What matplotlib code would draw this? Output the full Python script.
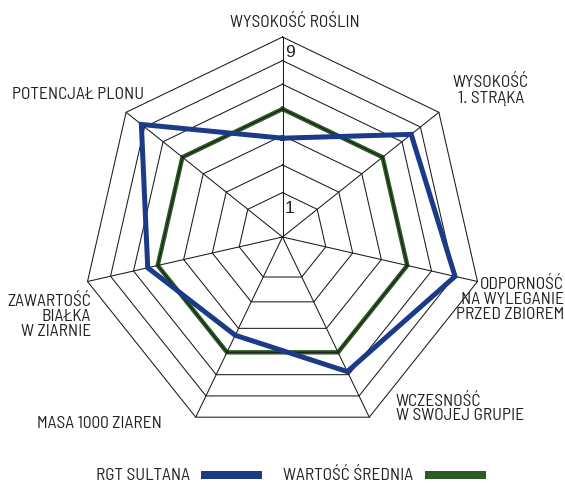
import numpy as np
import matplotlib
matplotlib.use("Agg")
import matplotlib.pyplot as plt
from matplotlib.patches import Rectangle

# ---------------- data ----------------
categories = [
    "WYSOKOŚĆ ROŚLIN",
    "WYSOKOŚĆ\n1. STRĄKA",
    "ODPORNOŚĆ\nNA WYLEGANIE\nPRZED ZBIOREM",
    "WCZESNOŚĆ\nW SWOJEJ GRUPIE",
    "MASA 1000 ZIAREN",
    "ZAWARTOŚĆ\nBIAŁKA\nW ZIARNIE",
    "POTENCJAŁ PLONU",
]
rgt_sultana = [3.55, 7.0, 7.7, 6.15, 4.05, 5.55, 7.9]
wartosc_srednia = [5, 5, 5, 5, 5, 5, 5]
ring_values = np.linspace(1, 9, 7)
scale_labels = ["1", "9"]
series_names = ["RGT SULTANA", "WARTOŚĆ ŚREDNIA"]

# ---------------- style ----------------
W, H, DPI = 565, 483, 100
CX, CY, R = 282.5, 237.0, 200.0   # layout (pixels)
# radial scale of the original drawing (fraction of radius at each ring)
RING_FRAC = [0.222, 0.360, 0.507, 0.640, 0.764, 0.882, 1.0]
BLUE = "#1b3a87"
GREEN = "#2c5c23"
INK = "#222222"
GRID = "#1a1a1a"
LABEL_FAMILY = ["Barlow Semi Condensed", "DejaVu Sans"]
plt.rcParams["font.family"] = LABEL_FAMILY

fig = plt.figure(figsize=(W / DPI, H / DPI), dpi=DPI)
ax = fig.add_axes([0, 0, 1, 1])
ax.set_xlim(-CX / R, (W - CX) / R)
ax.set_ylim(-(H - CY) / R, CY / R)
ax.axis("off")

n = len(categories)
angles = np.pi / 2 - np.arange(n) * 2 * np.pi / n


def rad(v):
    return np.interp(np.asarray(v, float), ring_values, RING_FRAC)


def xy(values):
    r = rad(values)
    x = r * np.cos(angles)
    y = r * np.sin(angles)
    return np.append(x, x[0]), np.append(y, y[0])


def px(x, y):
    return (x - CX) / R, (CY - y) / R


# grid rings
for rv in ring_values:
    gx, gy = xy([rv] * n)
    ax.plot(gx, gy, color=GRID, lw=0.75, zorder=2)
# spokes
ox, oy = xy([ring_values[-1]] * n)
for i in range(n):
    ax.plot([0, ox[i]], [0, oy[i]], color=GRID, lw=0.75, zorder=2)

# series
gx, gy = xy(wartosc_srednia)
ax.plot(gx, gy, color=GREEN, lw=3.2, zorder=1.5, solid_joinstyle="miter")
bx, by = xy(rgt_sultana)
ax.plot(bx, by, color=BLUE, lw=3.6, zorder=3, solid_joinstyle="miter")

# scale labels
for lab, v in zip(scale_labels, [ring_values[0], ring_values[-1]]):
    ax.text(0.012, rad(v) - 0.04, lab, fontsize=12.5, color=INK,
            family=["Liberation Sans", "DejaVu Sans"], ha="left", va="top", zorder=4)

# category labels (layout positions)
fs = 12.5
lab_pos = [
    (295, 22, "center", "center", 1.0),
    (491, 90, "center", "center", 1.15),
    (564, 299, "right", "center", 1.0),
    (396, 408, "left", "center", 1.0),
    (99, 423, "center", "center", 1.0),
    (91, 316, "right", "center", 1.0),
    (78, 94, "center", "center", 1.0),
]
for cat, (x, y, ha, va, ls) in zip(categories, lab_pos):
    tx, ty = px(x, y)
    ax.text(tx, ty, cat, fontsize=fs, family=LABEL_FAMILY, color=INK, ha=ha, va=va,
            multialignment=ha, linespacing=ls)

# legend
tx, ty = px(190, 475)
ax.text(tx, ty, series_names[0], fontsize=fs, family=LABEL_FAMILY, color=INK,
        ha="right", va="center")
tx, ty = px(413, 475)
ax.text(tx, ty, series_names[1], fontsize=fs, family=LABEL_FAMILY, color=INK,
        ha="right", va="center")
for (x0, x1), col in [((201, 262), BLUE), ((425, 486), GREEN)]:
    lx, ly = px(x0, 479)
    ax.add_patch(Rectangle((lx, ly), (x1 - x0) / R, 8 / R, color=col, lw=0))

fig.savefig("out.png", dpi=DPI)
